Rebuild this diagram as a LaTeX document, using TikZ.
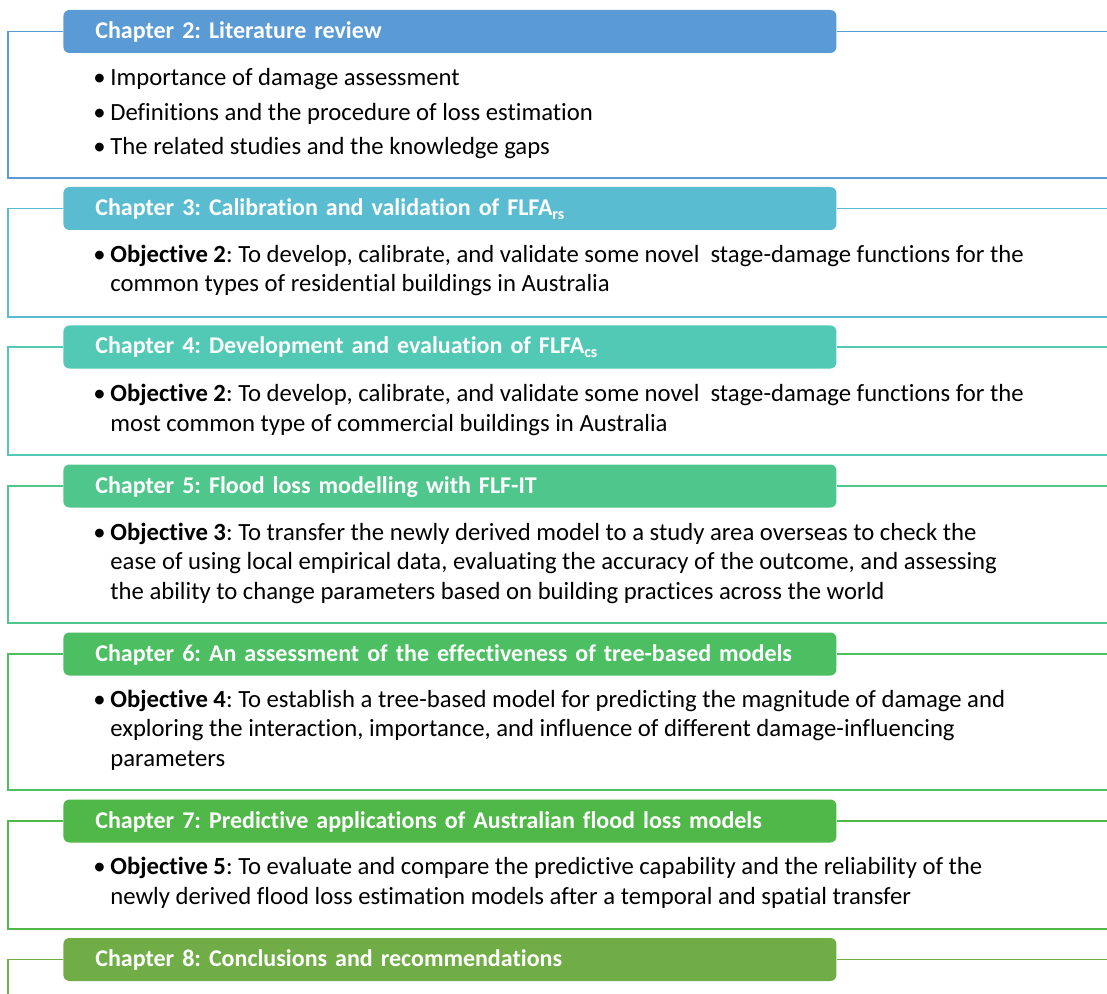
\documentclass[tikz,border=0pt]{standalone}
\usepackage{fontspec}
\setmainfont{Carlito}[Ligatures=NoCommon]

\definecolor{chtwo}{HTML}{5B9BD5}
\definecolor{chthree}{HTML}{5ABCD0}
\definecolor{chfour}{HTML}{52C9B5}
\definecolor{chfive}{HTML}{4FC68C}
\definecolor{chsix}{HTML}{4CBF63}
\definecolor{chseven}{HTML}{50B848}
\definecolor{cheight}{HTML}{70AD47}

\newcommand{\bul}{\llap{\makebox[8.5pt][l]{•}}}

\begin{document}
\begin{tikzpicture}[x=0.5pt, y=-0.5pt,
        head/.style={anchor=west, rounded corners=3pt, text=white, align=left,
            font=\frenchspacing\bfseries\fontsize{12}{14}\selectfont,
            text width=354.5pt, inner xsep=16pt, inner ysep=0pt,
            minimum height=21.5pt, text height=9.2pt, text depth=2.2pt},
        body/.style={anchor=base west, inner sep=0pt, align=left,
            font=\frenchspacing\fontsize{12.35}{14.75}\selectfont},
        frame/.style={line width=0.75pt}]
        \useasboundingbox (0,0) rectangle (1107,994);

        % Chapter 2
        \node[head, fill=chtwo] (h2) at (63,31.5) {Chapter 2: Literature review};
        \node[body] (t2) at (110,155) {\bul Importance of damage assessment\\[2.5pt]
            \bul Definitions and the procedure of loss estimation\\[2.5pt]
            \bul The related studies and the knowledge gaps};
        \coordinate (l2) at (8,31.5);
        \coordinate (b2) at (8,178);
        \coordinate (r2) at (1107,178);
        \coordinate (e2) at (1107,31.5);
        \draw[frame, chtwo] (h2.west) -- (l2) -- (b2) -- (r2);
        \draw[frame, chtwo] (h2.east) -- (e2);

        % Chapter 3
        \node[head, fill=chthree] (h3) at (63,208.5) {Chapter 3: Calibration and validation of FLFA\textsubscript{rs}};
        \node[body] (t3) at (110,292) {\bul\textbf{Objective 2}: To develop, calibrate, and validate some novel \ stage-damage functions for the\\
            common types of residential buildings in Australia};
        \coordinate (l3) at (8,208.5);
        \coordinate (b3) at (8,317);
        \coordinate (r3) at (1107,317);
        \coordinate (e3) at (1107,208.5);
        \draw[frame, chthree] (h3.west) -- (l3) -- (b3) -- (r3);
        \draw[frame, chthree] (h3.east) -- (e3);

        % Chapter 4
        \node[head, fill=chfour] (h4) at (63,347) {Chapter 4: Development and evaluation of FLFA\textsubscript{cs}};
        \node[body] (t4) at (110,431) {\bul\textbf{Objective 2}: To develop, calibrate, and validate some novel \ stage-damage functions for the\\
            most common type of commercial buildings in Australia};
        \coordinate (l4) at (8,347);
        \coordinate (b4) at (8,455);
        \coordinate (r4) at (1107,455);
        \coordinate (e4) at (1107,347);
        \draw[frame, chfour] (h4.west) -- (l4) -- (b4) -- (r4);
        \draw[frame, chfour] (h4.east) -- (e4);

        % Chapter 5
        \node[head, fill=chfive] (h5) at (63,486) {Chapter 5: Flood loss modelling with FLF-IT};
        \node[body] (t5) at (110,599) {\bul\textbf{Objective 3}: To transfer the newly derived model to a study area overseas to check the\\
            ease of using local empirical data, evaluating the accuracy of the outcome, and assessing\\
            the ability to change parameters based on building practices across the world};
        \coordinate (l5) at (8,486);
        \coordinate (b5) at (8,623);
        \coordinate (r5) at (1107,623);
        \coordinate (e5) at (1107,486);
        \draw[frame, chfive] (h5.west) -- (l5) -- (b5) -- (r5);
        \draw[frame, chfive] (h5.east) -- (e5);

        % Chapter 6
        \node[head, fill=chsix] (h6) at (63,654) {Chapter 6: An assessment of the effectiveness of tree-based models};
        \node[body] (t6) at (110,766) {\bul\textbf{Objective 4}: To establish a tree-based model for predicting the magnitude of damage and\\
            exploring the interaction, importance, and influence of different damage-influencing\\
            parameters};
        \coordinate (l6) at (8,654);
        \coordinate (b6) at (8,790);
        \coordinate (r6) at (1107,790);
        \coordinate (e6) at (1107,654);
        \draw[frame, chsix] (h6.west) -- (l6) -- (b6) -- (r6);
        \draw[frame, chsix] (h6.east) -- (e6);

        % Chapter 7
        \node[head, fill=chseven] (h7) at (63,821) {Chapter 7: Predictive applications of Australian flood loss models};
        \node[body] (t7) at (110,904) {\bul\textbf{Objective 5}: To evaluate and compare the predictive capability and the reliability of the\\
            newly derived flood loss estimation models after a temporal and spatial transfer};
        \coordinate (l7) at (8,821);
        \coordinate (b7) at (8,929);
        \coordinate (r7) at (1107,929);
        \coordinate (e7) at (1107,821);
        \draw[frame, chseven] (h7.west) -- (l7) -- (b7) -- (r7);
        \draw[frame, chseven] (h7.east) -- (e7);

        % Chapter 8
        \node[head, fill=cheight] (h8) at (63,959.5) {Chapter 8: Conclusions and recommendations};
        \coordinate (l8) at (8,959.5);
        \coordinate (b8) at (8,994);
        \coordinate (e8) at (1107,959.5);
        \draw[frame, cheight] (h8.west) -- (l8) -- (b8);
        \draw[frame, cheight] (h8.east) -- (e8);
    \end{tikzpicture}
\end{document}
